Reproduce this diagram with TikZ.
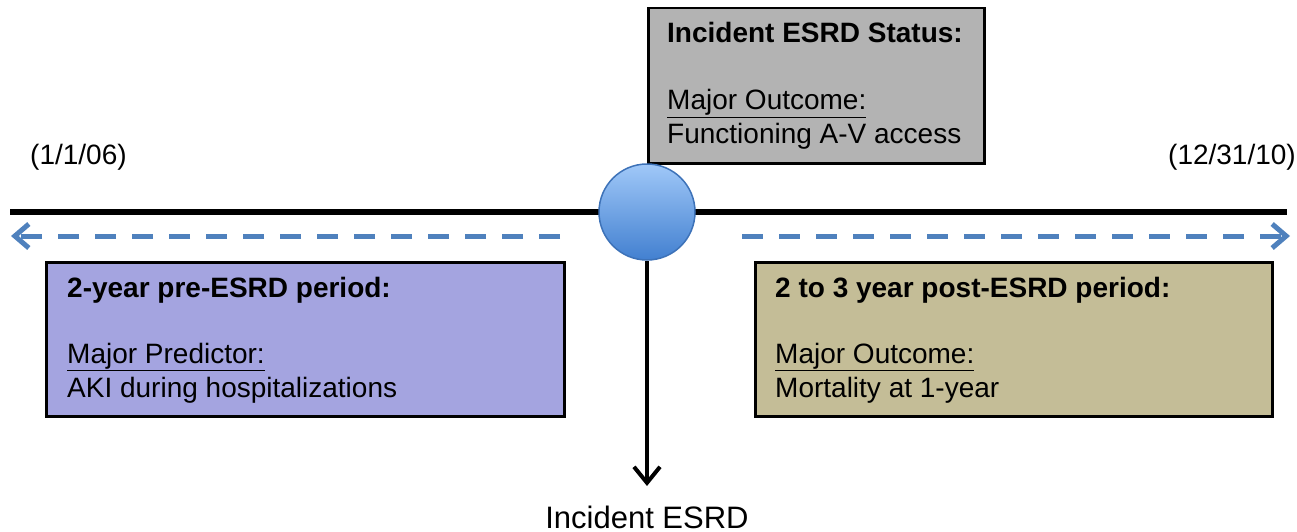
\documentclass[tikz,border=0pt]{standalone}
\usepackage{fontspec}
\setmainfont{Liberation Sans}
\usetikzlibrary{arrows.meta}
\definecolor{boxgray}{RGB}{179,179,179}
\definecolor{boxpurple}{RGB}{164,164,224}
\definecolor{boxtan}{RGB}{196,189,151}
\definecolor{dashblue}{RGB}{79,129,189}
\definecolor{ballline}{RGB}{61,114,184}
\definecolor{balltop}{RGB}{160,200,248}
\definecolor{ballbot}{RGB}{66,128,208}
\tikzset{
  panel/.style={draw=black, line width=2.5pt, inner sep=0pt, anchor=north west},
  txt/.style={inner sep=0pt, anchor=base west, font=\fontsize{28}{34}\selectfont},
  btxt/.style={txt, font=\fontsize{28}{34}\selectfont\bfseries},
  period/.style={draw=dashblue, line width=5pt, dash pattern=on 21pt off 16pt,
    -{Straight Barb[length=14pt, width=24pt, line width=5pt]}},
}
\begin{document}
\begin{tikzpicture}[x=1pt, y=-1pt]
\useasboundingbox (0,0) rectangle (1297,532);

% timeline
\coordinate (tl) at (10,212);
\coordinate (tr) at (1287,212);
\draw[line width=6pt] (tl) -- (tr);

% status box above the event
\node[panel, fill=boxgray, minimum width=336pt, minimum height=155pt] (status) at (647,7) {};
\node[btxt] (statusT) at (667,43) {Incident ESRD Status:};
\node[txt] (statusU) at (667,110) {\underline{Major Outcome:}};
\node[txt] (statusV) at (667,143) {Functioning A-V access};

% dates
\node[txt] (start) at (30,164) {(1/1/06)};
\node[txt, anchor=base east] (stop) at (1296,164) {(12/31/10)};

% periods
\coordinate (preA) at (560,236);
\coordinate (preB) at (11,236);
\coordinate (postA) at (742,236);
\coordinate (postB) at (1290,236);
\draw[period] (preA) -- (preB);
\draw[period] (postA) -- (postB);

% pre-ESRD box
\node[panel, fill=boxpurple, minimum width=518pt, minimum height=154pt] (pre) at (45,261) {};
\node[btxt] (preT) at (67,297) {2-year pre-ESRD period:};
\node[txt] (preU) at (67,363) {\underline{Major Predictor:}};
\node[txt] (preV) at (67,397) {AKI during hospitalizations};

% post-ESRD box
\node[panel, fill=boxtan, minimum width=517pt, minimum height=154pt] (post) at (754,261) {};
\node[btxt] (postT) at (775,297) {2 to 3 year post-ESRD period:};
\node[txt] (postU) at (775,363) {\underline{Major Outcome:}};
\node[txt] (postV) at (775,397) {Mortality at 1-year};

% event marker and down arrow
\node[circle, minimum size=96pt, inner sep=0pt, draw=ballline, line width=1.5pt,
  top color=balltop, bottom color=ballbot] (event) at (647,212) {};
\node[inner sep=0pt, anchor=base, font=\fontsize{31}{36}\selectfont] (esrd) at (647,528) {Incident ESRD};
\coordinate (tip) at (647,486);
\draw[line width=4pt, -{Straight Barb[length=16pt, width=26pt, line width=4pt]}] (event.south) -- (tip);
\end{tikzpicture}
\end{document}
